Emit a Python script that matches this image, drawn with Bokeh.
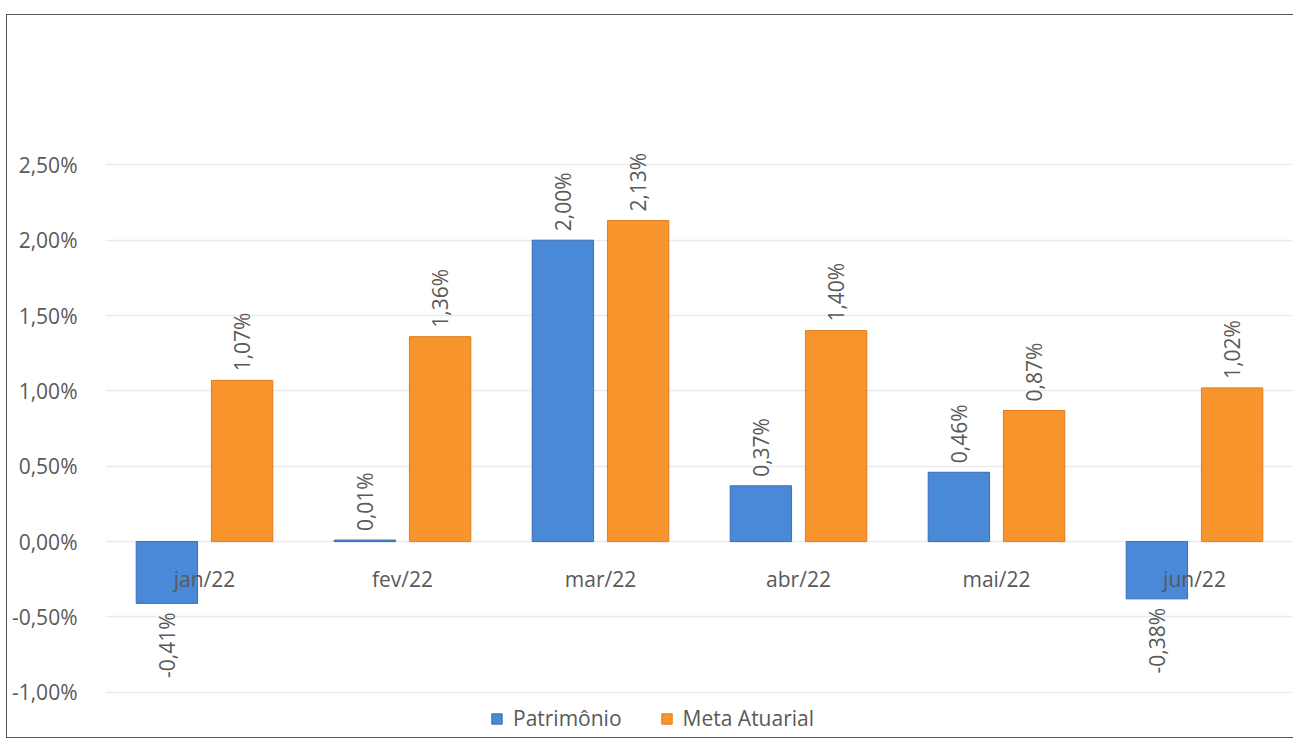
from bokeh.plotting import figure
from bokeh.models import (FactorRange, Range1d, FixedTicker, Legend, LegendItem,
                          ColumnDataSource, CustomJSTickFormatter)
from bokeh.transform import dodge
from bokeh.core.properties import value
from bokeh.embed import file_html
from bokeh.resources import INLINE

# ---- data ----
months = ["jan/22", "fev/22", "mar/22", "abr/22", "mai/22", "jun/22"]
patrimonio = [-0.41, 0.01, 2.00, 0.37, 0.46, -0.38]
meta_atuarial = [1.07, 1.36, 2.13, 1.40, 0.87, 1.02]
series_names = ["Patrimônio", "Meta Atuarial"]
y_ticks = [-1.0, -0.5, 0.0, 0.5, 1.0, 1.5, 2.0, 2.5]

FONT = "Open Sans"
GRAY = "#595959"
BLUE = "#4a88d8"
BLUE_LINE = "#3a6db5"
ORANGE = "#f7942c"
ORANGE_LINE = "#e07d1d"
FS = "21px"


def fmt(v):
    return f"{v:.2f}".replace(".", ",") + "%"


def label_cols(vals):
    return dict(
        month=months,
        val=vals,
        lab=[fmt(v) for v in vals],
        align=["left" if v >= 0 else "right" for v in vals],
        yoff=[-9 if v >= 0 else 9 for v in vals],
    )


src_p = ColumnDataSource(label_cols(patrimonio))
src_m = ColumnDataSource(label_cols(meta_atuarial))

p = figure(
    x_range=FactorRange(*months, range_padding=0),
    y_range=Range1d(-1.3, 3.0),
    frame_width=1188, frame_height=648,
    min_border_left=98, min_border_top=74, min_border_right=0, min_border_bottom=0,
    x_axis_location=None,
    output_backend="svg", toolbar_location=None,
)
p.styles = {"margin-left": "6px", "margin-top": "14px",
            "border-left": "1px solid #555555", "border-top": "1px solid #555555",
            "border-bottom": "1px solid #555555"}
p.outline_line_color = None
p.xgrid.grid_line_color = None
p.ygrid.grid_line_color = "#ebebeb"
p.ygrid.grid_line_width = 1.5

ax = p.yaxis[0]
ax.ticker = FixedTicker(ticks=y_ticks)
ax.formatter = CustomJSTickFormatter(code="return tick.toFixed(2).replace('.', ',') + '%';")
ax.axis_line_color = None
ax.major_tick_line_color = None
ax.minor_tick_line_color = None
ax.major_label_text_font = FONT
ax.major_label_text_font_size = FS
ax.major_label_text_color = GRAY
ax.major_label_standoff = 22

off = 0.19
w = 0.31
r_p = p.vbar(x=dodge("month", -off, range=p.x_range), top="val", bottom=0, width=w,
             source=src_p, fill_color=BLUE, line_color=BLUE_LINE, line_width=1)
r_m = p.vbar(x=dodge("month", off, range=p.x_range), top="val", bottom=0, width=w,
             source=src_m, fill_color=ORANGE, line_color=ORANGE_LINE, line_width=1)

for src, o in ((src_p, -off), (src_m, off)):
    p.text(x=dodge("month", o, range=p.x_range), y="val", text="lab", source=src,
           angle=1.5708, text_align="align", text_baseline="middle", y_offset="yoff",
           text_font=value(FONT), text_font_size=FS, text_color=GRAY)

# category labels next to zero line
p.text(x="month", y=0, text="month", source=src_p, y_offset=37,
       text_align="center", text_baseline="middle",
       text_font=value(FONT), text_font_size=FS, text_color=GRAY)

legend = Legend(items=[LegendItem(label=series_names[0], renderers=[r_p]),
                       LegendItem(label=series_names[1], renderers=[r_m])],
                orientation="horizontal", location=(385, 5))
legend.label_text_font = FONT
legend.label_text_font_size = FS
legend.label_text_color = GRAY
legend.glyph_width = 13
legend.glyph_height = 13
legend.label_height = 22
legend.label_standoff = 10
legend.spacing = 38
legend.padding = 4
legend.margin = 0
legend.border_line_color = None
legend.background_fill_alpha = 0
p.add_layout(legend, "center")

open("out.html", "w").write(file_html(p, INLINE))
